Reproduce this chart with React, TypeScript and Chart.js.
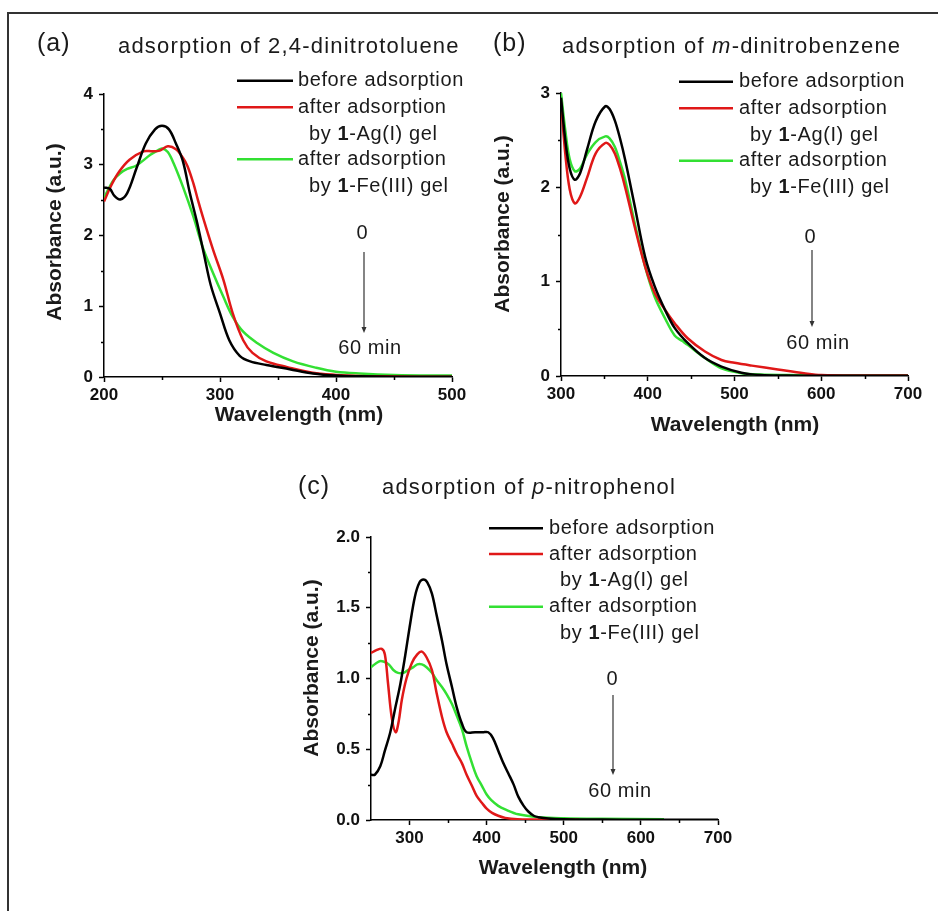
import React, { useEffect, useRef } from 'react';
import { Chart, registerables } from 'chart.js';

Chart.register(...registerables);

// ---------------- Panel (a): 2,4-dinitrotoluene ----------------
const A_WL_BEFORE = [200, 205, 209, 214, 220, 228, 236, 244, 250, 256, 262, 268, 274, 280, 286, 292, 300, 308, 317, 326, 340, 360, 380, 400, 420, 450, 500];
const A_ABS_BEFORE = [2.68, 2.66, 2.56, 2.51, 2.6, 2.95, 3.3, 3.5, 3.55, 3.5, 3.3, 3.05, 2.6, 2.2, 1.75, 1.3, 0.9, 0.52, 0.3, 0.22, 0.17, 0.11, 0.05, 0.02, 0.01, 0.005, 0.005];
const A_WL_AG = [200, 206, 213, 222, 234, 242, 248, 255, 262, 268, 272, 277, 281, 286, 294, 303, 311, 320, 328, 340, 358, 380, 400, 420, 440, 470, 500];
const A_ABS_AG = [2.48, 2.7, 2.9, 3.07, 3.19, 3.19, 3.2, 3.26, 3.22, 3.1, 2.98, 2.74, 2.5, 2.22, 1.8, 1.37, 0.9, 0.52, 0.34, 0.22, 0.14, 0.06, 0.03, 0.015, 0.01, 0.005, 0.005];
const A_WL_FE = [200, 208, 214, 220, 228, 240, 246, 250, 255, 260, 268, 277, 285, 294, 303, 311, 320, 332, 346, 363, 383, 400, 420, 450, 500];
const A_ABS_FE = [2.53, 2.78, 2.88, 2.94, 2.99, 3.14, 3.2, 3.23, 3.18, 3.02, 2.69, 2.27, 1.84, 1.47, 1.13, 0.85, 0.64, 0.48, 0.34, 0.22, 0.13, 0.075, 0.05, 0.03, 0.02];
const A_X_TICKS = [200, 300, 400, 500];
const A_X_MINOR = [250, 350, 450];
const A_Y_TICKS = [0, 1, 2, 3, 4];
const A_Y_MINOR = [0.5, 1.5, 2.5, 3.5];

// ---------------- Panel (b): m-dinitrobenzene ----------------
const B_WL_BEFORE = [300, 305, 310, 316, 322, 330, 340, 351, 356, 362, 368, 374, 385, 397, 408, 420, 431, 446, 466, 485, 508, 530, 560, 600, 700];
const B_ABS_BEFORE = [2.95, 2.5, 2.2, 2.08, 2.15, 2.4, 2.7, 2.86, 2.83, 2.71, 2.52, 2.29, 1.8, 1.26, 0.95, 0.7, 0.51, 0.35, 0.19, 0.1, 0.035, 0.01, 0.005, 0.003, 0.002];
const B_WL_AG = [300, 305, 310, 316, 322, 330, 340, 351, 356, 362, 368, 374, 385, 397, 408, 420, 431, 446, 466, 485, 500, 520, 550, 580, 600, 650, 700];
const B_ABS_AG = [2.9, 2.35, 1.98, 1.83, 1.9, 2.1, 2.36, 2.47, 2.45, 2.36, 2.2, 2.0, 1.58, 1.16, 0.88, 0.7, 0.56, 0.4, 0.26, 0.17, 0.14, 0.11, 0.07, 0.03, 0.01, 0.005, 0.005];
const B_WL_FE = [300, 305, 310, 316, 322, 330, 340, 351, 356, 362, 368, 374, 385, 397, 408, 420, 431, 440, 446, 466, 485, 508, 530, 560, 600, 650, 700];
const B_ABS_FE = [3.0, 2.6, 2.3, 2.17, 2.2, 2.35, 2.48, 2.54, 2.52, 2.43, 2.27, 2.08, 1.62, 1.16, 0.84, 0.61, 0.43, 0.37, 0.33, 0.19, 0.08, 0.03, 0.015, 0.01, 0.008, 0.005, 0.005];
const B_X_TICKS = [300, 400, 500, 600, 700];
const B_X_MINOR = [350, 450, 550, 650];
const B_Y_TICKS = [0, 1, 2, 3];
const B_Y_MINOR = [0.5, 1.5, 2.5];

// ---------------- Panel (c): p-nitrophenol ----------------
const C_WL_BEFORE = [250, 255, 262, 268, 275, 281, 288, 294, 300, 307, 313, 318, 323, 329, 335, 342, 348, 355, 361, 368, 374, 385, 395, 402, 408, 415, 421, 428, 435, 441, 448, 454, 461, 467, 480, 500, 550, 600, 700];
const C_ABS_BEFORE = [0.32, 0.32, 0.38, 0.49, 0.62, 0.78, 0.96, 1.15, 1.36, 1.58, 1.68, 1.7, 1.68, 1.6, 1.45, 1.27, 1.1, 0.94, 0.8, 0.68, 0.62, 0.62, 0.62, 0.62, 0.58, 0.49, 0.41, 0.33, 0.25, 0.165, 0.1, 0.06, 0.03, 0.02, 0.01, 0.005, 0.003, 0.002, 0.002];
const C_WL_AG = [250, 257, 264, 268, 272, 277, 282, 286, 290, 296, 303, 310, 316, 322, 329, 335, 342, 348, 355, 361, 368, 374, 381, 387, 394, 400, 407, 415, 424, 440, 460, 500, 520];
const C_ABS_AG = [1.18, 1.2, 1.21, 1.17, 0.97, 0.72, 0.62, 0.7, 0.85, 1.0, 1.11, 1.17, 1.19, 1.15, 1.06, 0.9, 0.73, 0.62, 0.54, 0.47, 0.4, 0.32, 0.24, 0.17, 0.12, 0.08, 0.05, 0.03, 0.015, 0.005, 0.003, 0.002, 0.002];
const C_WL_FE = [250, 260, 266, 273, 279, 285, 292, 298, 305, 310, 316, 322, 329, 335, 342, 348, 355, 361, 368, 374, 381, 387, 394, 400, 406, 415, 424, 441, 467, 500, 550, 630];
const C_ABS_FE = [1.08, 1.12, 1.12, 1.1, 1.06, 1.04, 1.04, 1.06, 1.08, 1.1, 1.1, 1.08, 1.04, 0.99, 0.94, 0.89, 0.82, 0.74, 0.64, 0.52, 0.4, 0.31, 0.24, 0.18, 0.14, 0.1, 0.075, 0.04, 0.02, 0.012, 0.008, 0.005];
const C_X_TICKS = [300, 400, 500, 600, 700];
const C_X_MINOR = [350, 450, 550, 650];
const C_Y_TICKS = [0, 0.5, 1.0, 1.5, 2.0];
const C_Y_MINOR = [0.25, 0.75, 1.25, 1.75];

// ---------------- Text ----------------
const LEGEND_BEFORE = 'before adsorption';
const LEGEND_AFTER = 'after adsorption';
const TIME_START = '0';
const TIME_END = '60 min';
const X_TITLE = 'Wavelength (nm)';
const Y_TITLE = 'Absorbance (a.u.)';

const FONT = '"Liberation Sans", Arial, Helvetica, sans-serif';
const BLACK = '#000000';
const RED = '#e01818';
const GREEN = '#33e033';
const TEXT = '#1a1a1a';
const W = 940;
const H = 911;
const YW = 60;
const XH = 40;

type Run = { t: string; b?: boolean; i?: boolean };
type TextItem = { runs: Run[]; x: number; y: number; size: number; bold?: boolean; center?: boolean; ls?: number; rot?: boolean };

function drawRuns(ctx: CanvasRenderingContext2D, item: TextItem) {
  ctx.save();
  ctx.textBaseline = 'middle';
  ctx.textAlign = 'left';
  ctx.fillStyle = TEXT;
  (ctx as any).letterSpacing = `${item.ls ?? 0}px`;
  const fontOf = (r: Run) => `${r.i ? 'italic ' : ''}${r.b || item.bold ? 'bold ' : ''}${item.size}px ${FONT}`;
  let total = 0;
  const widths = item.runs.map((r) => {
    ctx.font = fontOf(r);
    const w = ctx.measureText(r.t).width;
    total += w;
    return w;
  });
  ctx.translate(item.x, item.y);
  if (item.rot) ctx.rotate(-Math.PI / 2);
  let x = item.center ? -total / 2 : 0;
  item.runs.forEach((r, k) => {
    ctx.font = fontOf(r);
    ctx.fillText(r.t, x, 0);
    x += widths[k];
  });
  ctx.restore();
}

type Panel = {
  plot: { l: number; t: number; r: number; b: number };
  xMin: number; xMax: number; xTicks: number[]; xMinor: number[];
  yMin: number; yMax: number; yTicks: number[]; yMinor: number[]; yDigits: number;
  series: { x: number[]; y: number[]; color: string }[];
  label: string; labelX: number; labelY: number;
  title: Run[]; titleX: number; titleY: number;
  legLineX1: number; legLineX2: number; legTextX: number; legIndentX: number; legRows: number[];
  arrowX: number; arrowY1: number; arrowY2: number; zeroX: number; zeroY: number; endX: number; endY: number;
  xTitleX: number; xTitleY: number; yTitleX: number; yTitleY: number;
};

const PANELS: Panel[] = [
  {
    plot: { l: 104, t: 94, r: 452, b: 377 },
    xMin: 200, xMax: 500, xTicks: A_X_TICKS, xMinor: A_X_MINOR,
    yMin: 0, yMax: 4, yTicks: A_Y_TICKS, yMinor: A_Y_MINOR, yDigits: 0,
    series: [
      { x: A_WL_BEFORE, y: A_ABS_BEFORE, color: BLACK },
      { x: A_WL_AG, y: A_ABS_AG, color: RED },
      { x: A_WL_FE, y: A_ABS_FE, color: GREEN },
    ],
    label: '(a)', labelX: 37, labelY: 44,
    title: [{ t: 'adsorption of 2,4-dinitrotoluene' }], titleX: 118, titleY: 47,
    legLineX1: 237, legLineX2: 293, legTextX: 298, legIndentX: 309, legRows: [80.7, 107.3, 134, 159.3, 186],
    arrowX: 364, arrowY1: 252, arrowY2: 333, zeroX: 362, zeroY: 233, endX: 370, endY: 348,
    xTitleX: 299, xTitleY: 415, yTitleX: 55, yTitleY: 232,
  },
  {
    plot: { l: 561, t: 93, r: 908, b: 376 },
    xMin: 300, xMax: 700, xTicks: B_X_TICKS, xMinor: B_X_MINOR,
    yMin: 0, yMax: 3, yTicks: B_Y_TICKS, yMinor: B_Y_MINOR, yDigits: 0,
    series: [
      { x: B_WL_BEFORE, y: B_ABS_BEFORE, color: BLACK },
      { x: B_WL_AG, y: B_ABS_AG, color: RED },
      { x: B_WL_FE, y: B_ABS_FE, color: GREEN },
    ],
    label: '(b)', labelX: 493, labelY: 44,
    title: [{ t: 'adsorption of ' }, { t: 'm', i: true }, { t: '-dinitrobenzene' }], titleX: 562, titleY: 47,
    legLineX1: 679, legLineX2: 733, legTextX: 739, legIndentX: 750, legRows: [81.7, 108.3, 135, 160.7, 187.3],
    arrowX: 812, arrowY1: 250, arrowY2: 327, zeroX: 810, zeroY: 237, endX: 818, endY: 343,
    xTitleX: 735, xTitleY: 425, yTitleX: 503, yTitleY: 224,
  },
  {
    plot: { l: 371, t: 537, r: 718, b: 820 },
    xMin: 250, xMax: 700, xTicks: C_X_TICKS, xMinor: C_X_MINOR,
    yMin: 0, yMax: 2, yTicks: C_Y_TICKS, yMinor: C_Y_MINOR, yDigits: 1,
    series: [
      { x: C_WL_BEFORE, y: C_ABS_BEFORE, color: BLACK },
      { x: C_WL_AG, y: C_ABS_AG, color: RED },
      { x: C_WL_FE, y: C_ABS_FE, color: GREEN },
    ],
    label: '(c)', labelX: 298, labelY: 487,
    title: [{ t: 'adsorption of ' }, { t: 'p', i: true }, { t: '-nitrophenol' }], titleX: 382, titleY: 488,
    legLineX1: 489, legLineX2: 543, legTextX: 549, legIndentX: 560, legRows: [528.3, 554, 580, 606.7, 633.3],
    arrowX: 613, arrowY1: 695, arrowY2: 775, zeroX: 612, zeroY: 679, endX: 620, endY: 791,
    xTitleX: 563, xTitleY: 868, yTitleX: 312, yTitleY: 668,
  },
];

function makeDecor(p: Panel) {
  return {
    id: 'decor',
    afterDraw(chart: any) {
      const ctx: CanvasRenderingContext2D = chart.ctx;
      const xs = chart.scales.x;
      const ys = chart.scales.y;
      const area = chart.chartArea;
      ctx.save();
      // minor ticks
      ctx.strokeStyle = '#000';
      ctx.lineWidth = 1.5;
      ctx.beginPath();
      p.xMinor.forEach((v) => {
        const px = Math.round(xs.getPixelForValue(v)) + 0.5;
        ctx.moveTo(px, area.bottom);
        ctx.lineTo(px, area.bottom + 3);
      });
      p.yMinor.forEach((v) => {
        const py = Math.round(ys.getPixelForValue(v)) + 0.5;
        ctx.moveTo(area.left - 3, py);
        ctx.lineTo(area.left, py);
      });
      ctx.stroke();
      // legend lines
      const legColors = [BLACK, RED, null, GREEN, null];
      legColors.forEach((c, k) => {
        if (!c) return;
        ctx.strokeStyle = c;
        ctx.lineWidth = 2.5;
        ctx.beginPath();
        ctx.moveTo(p.legLineX1, p.legRows[k]);
        ctx.lineTo(p.legLineX2, p.legRows[k]);
        ctx.stroke();
      });
      // arrow
      ctx.strokeStyle = '#333';
      ctx.fillStyle = '#333';
      ctx.lineWidth = 1.2;
      ctx.beginPath();
      ctx.moveTo(p.arrowX, p.arrowY1);
      ctx.lineTo(p.arrowX, p.arrowY2 - 4);
      ctx.stroke();
      ctx.beginPath();
      ctx.moveTo(p.arrowX - 2.5, p.arrowY2 - 6);
      ctx.lineTo(p.arrowX + 2.5, p.arrowY2 - 6);
      ctx.lineTo(p.arrowX, p.arrowY2);
      ctx.closePath();
      ctx.fill();
      ctx.restore();

      const texts: TextItem[] = [
        { runs: [{ t: p.label }], x: p.labelX, y: p.labelY, size: 25, ls: 1 },
        { runs: p.title, x: p.titleX, y: p.titleY, size: 22, ls: 1.2 },
        { runs: [{ t: LEGEND_BEFORE }], x: p.legTextX, y: p.legRows[0], size: 20, ls: 0.6 },
        { runs: [{ t: LEGEND_AFTER }], x: p.legTextX, y: p.legRows[1], size: 20, ls: 0.6 },
        { runs: [{ t: 'by ' }, { t: '1', b: true }, { t: '-Ag(I) gel' }], x: p.legIndentX, y: p.legRows[2], size: 20, ls: 0.6 },
        { runs: [{ t: LEGEND_AFTER }], x: p.legTextX, y: p.legRows[3], size: 20, ls: 0.6 },
        { runs: [{ t: 'by ' }, { t: '1', b: true }, { t: '-Fe(III) gel' }], x: p.legIndentX, y: p.legRows[4], size: 20, ls: 0.6 },
        { runs: [{ t: TIME_START }], x: p.zeroX, y: p.zeroY, size: 20, center: true },
        { runs: [{ t: TIME_END }], x: p.endX, y: p.endY, size: 20, center: true, ls: 0.6 },
        { runs: [{ t: X_TITLE }], x: p.xTitleX, y: p.xTitleY, size: 21, bold: true, center: true },
        { runs: [{ t: Y_TITLE }], x: p.yTitleX, y: p.yTitleY, size: 21, bold: true, center: true, rot: true },
      ];
      texts.forEach((t) => drawRuns(ctx, t));
    },
  };
}

function buildChart(canvas: HTMLCanvasElement, p: Panel) {
  const tickFont = { family: FONT, size: 17, weight: 'bold' as const };
  const grid = { display: true, drawOnChartArea: false, drawTicks: true, tickLength: 5, tickWidth: 1.5, tickColor: '#000' };
  const border = { display: true, color: '#000', width: 1.5 };
  return new Chart(canvas, {
    type: 'line',
    data: {
      datasets: p.series.map((s) => ({
        data: s.x.map((xv, i) => ({ x: xv, y: s.y[i] })),
        borderColor: s.color,
        backgroundColor: s.color,
        borderWidth: 2.5,
        pointRadius: 0,
        fill: false,
        tension: 0.35,
      })),
    },
    options: {
      animation: false,
      responsive: false,
      events: [],
      layout: {
        padding: { left: p.plot.l - YW, top: p.plot.t, right: W - p.plot.r, bottom: H - p.plot.b - XH },
      },
      plugins: { legend: { display: false }, tooltip: { enabled: false } },
      scales: {
        x: {
          type: 'linear',
          min: p.xMin,
          max: p.xMax,
          afterBuildTicks: (s: any) => { s.ticks = p.xTicks.map((v) => ({ value: v })); },
          afterFit: (s: any) => { s.height = XH; s.paddingLeft = 0; s.paddingRight = 0; },
          ticks: { font: tickFont, color: '#111', maxRotation: 0, autoSkip: false, padding: 3, callback: (v: any) => String(v) },
          grid,
          border,
        },
        y: {
          type: 'linear',
          min: p.yMin,
          max: p.yMax,
          afterBuildTicks: (s: any) => { s.ticks = p.yTicks.map((v) => ({ value: v })); },
          afterFit: (s: any) => { s.width = YW; s.paddingTop = 0; s.paddingBottom = 0; },
          ticks: { font: tickFont, color: '#111', autoSkip: false, padding: 6, callback: (v: any) => Number(v).toFixed(p.yDigits) },
          grid,
          border,
        },
      },
    } as any,
    plugins: [makeDecor(p)],
  });
}

function PanelCanvas({ panel }: { panel: Panel }) {
  const ref = useRef<HTMLCanvasElement | null>(null);
  useEffect(() => {
    if (!ref.current) return;
    const chart = buildChart(ref.current, panel);
    return () => chart.destroy();
  }, [panel]);
  return (
    <canvas
      ref={ref}
      width={W}
      height={H}
      style={{ position: 'absolute', left: 0, top: 0, width: W, height: H }}
    />
  );
}

export default function App() {
  return (
    <div style={{ position: 'absolute', left: 0, top: 0, width: W, height: H, background: '#fff', overflow: 'hidden' }}>
      <div
        style={{
          position: 'absolute',
          left: 7,
          top: 12,
          width: 931,
          height: H - 12,
          borderTop: '2px solid #333',
          borderLeft: '2px solid #333',
          boxSizing: 'border-box',
        }}
      />
      {PANELS.map((p, i) => (
        <PanelCanvas key={i} panel={p} />
      ))}
    </div>
  );
}
